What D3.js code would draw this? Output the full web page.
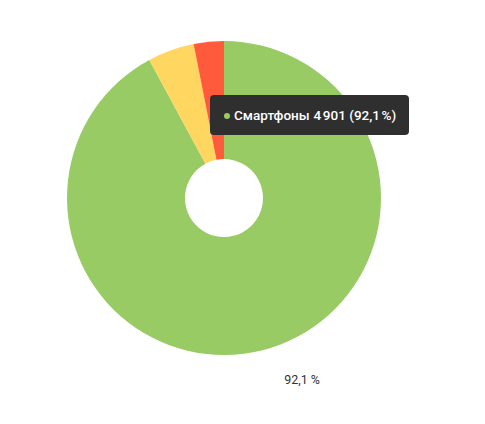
<!DOCTYPE html>
<html><head><meta charset="utf-8">
<script src="https://cdn.jsdelivr.net/npm/d3@7"></script>
<style>body{margin:0;background:#fff;}svg{display:block;}</style>
</head><body>
<script>
const categories = ["Смартфоны", "Планшеты", "ПК"];
const values = [4901, 255, 165];
const colors = ["#98cb64", "#ffd660", "#ff5a3c"];
const labelText = "92,1 %";
const tooltipName = "Смартфоны";
const tooltipValue = "4\u202F901 (92,1\u202F%)";

const W = 485, H = 424, cx = 224, cy = 198, R = 157, r0 = 39;
const svg = d3.select("body").append("svg").attr("width", W).attr("height", H);
const g = svg.append("g").attr("transform", `translate(${cx},${cy})`);
const pie = d3.pie().sort(null).value(d => d);
const arcs = pie(values);
const arc = d3.arc().innerRadius(r0).outerRadius(R);
g.selectAll("path").data(arcs).enter().append("path")
  .attr("d", arc).attr("fill", (d, i) => colors[i]);

const labelArc = d3.arc().innerRadius(188).outerRadius(188);
const c = labelArc.centroid(arcs[0]);
g.append("text").attr("x", c[0] + 14).attr("y", c[1] + 4)
  .attr("font-family", "Roboto, sans-serif").attr("font-size", 12.5).attr("fill", "#333")
  .text(labelText);

// tooltip
const tt = svg.append("g").attr("transform", "translate(210,95)");
tt.append("rect").attr("width", 199).attr("height", 40).attr("rx", 4).attr("fill", "#2f2f2f");
tt.append("circle").attr("cx", 17).attr("cy", 21).attr("r", 3).attr("fill", colors[0]);
tt.append("text").attr("x", 24).attr("y", 25).attr("font-family", "Roboto, sans-serif")
  .attr("font-size", 13.5).attr("font-weight", 500).attr("fill", "#fff").text(tooltipName);
tt.append("text").attr("x", 103.5).attr("y", 25).attr("font-family", "Roboto, sans-serif")
  .attr("font-size", 13.5).attr("font-weight", 500).attr("fill", "#fff").text(tooltipValue);
</script>
</body></html>
